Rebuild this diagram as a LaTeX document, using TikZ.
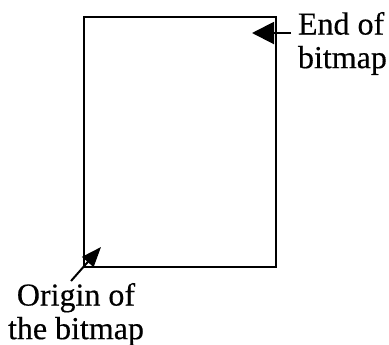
\documentclass[tikz,border=0pt]{standalone}
\usepackage{fontspec}
\setmainfont[FakeBold=0.4]{Liberation Serif}
\usetikzlibrary{arrows.meta,positioning}

\begin{document}
\begin{tikzpicture}[x=0.5pt, y=-0.5pt, line width=1pt,
  font=\fontsize{16}{16.8}\selectfont,
  bmp/.style={draw, minimum width=96pt, minimum height=125pt, inner sep=0pt},
  lab/.style={inner sep=0pt},
  ptr/.style={-{Triangle[length=11pt, width=11pt]}},
  ptrs/.style={-{Triangle[length=10pt, width=7.5pt]}}]
  \useasboundingbox (0,0) rectangle (389,344);

  \node[bmp] (map) at (180,142) {};
  \node[lab, align=left, anchor=north west] (endlbl) at (297,11) {End of\\bitmap};
  \node[lab, align=center, anchor=north] (orglbl) at (76,282) {Origin of\\the bitmap};

  \coordinate (endtip) at (252,33);
  \coordinate (orgtip) at (101,247);

  \draw[ptr] ([xshift=-3pt]endlbl.west |- endtip) -- (endtip);
  \draw[ptrs] ([shift={(-5,-1)}]orglbl.north) -- (orgtip);
\end{tikzpicture}
\end{document}
